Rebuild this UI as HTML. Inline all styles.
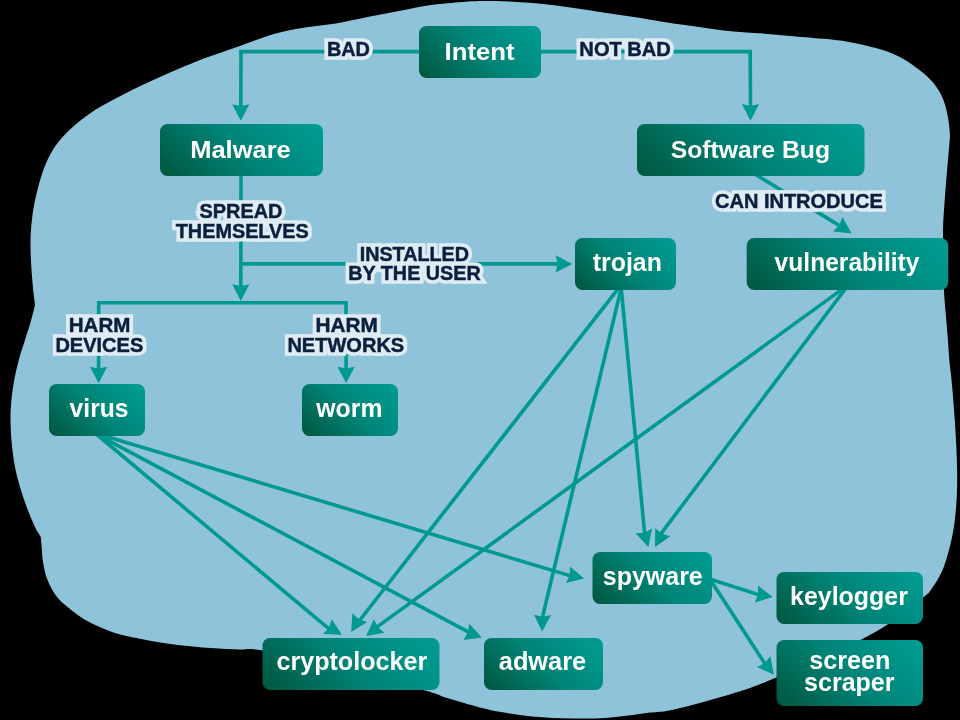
<!DOCTYPE html>
<html lang="en"><head><meta charset="utf-8"><title>Malware taxonomy</title>
<style>html,body{margin:0;padding:0;background:#000;}svg{display:block;}</style></head>
<body>
<svg width="960" height="720" viewBox="0 0 960 720">
<defs><linearGradient id="g0" gradientUnits="userSpaceOnUse" x1="436.5" y1="95.5" x2="523.5" y2="8.5"><stop offset="0" stop-color="#00563E"/><stop offset="0.5" stop-color="#008477"/><stop offset="1" stop-color="#009D94"/></linearGradient><linearGradient id="g1" gradientUnits="userSpaceOnUse" x1="187.8" y1="203.8" x2="295.2" y2="96.2"><stop offset="0" stop-color="#00563E"/><stop offset="0.5" stop-color="#008477"/><stop offset="1" stop-color="#009D94"/></linearGradient><linearGradient id="g2" gradientUnits="userSpaceOnUse" x1="680.9" y1="219.9" x2="820.6" y2="80.1"><stop offset="0" stop-color="#00563E"/><stop offset="0.5" stop-color="#008477"/><stop offset="1" stop-color="#009D94"/></linearGradient><linearGradient id="g3" gradientUnits="userSpaceOnUse" x1="587.2" y1="302.2" x2="663.8" y2="225.8"><stop offset="0" stop-color="#00563E"/><stop offset="0.5" stop-color="#008477"/><stop offset="1" stop-color="#009D94"/></linearGradient><linearGradient id="g4" gradientUnits="userSpaceOnUse" x1="784.1" y1="327.4" x2="910.8" y2="200.6"><stop offset="0" stop-color="#00563E"/><stop offset="0.5" stop-color="#008477"/><stop offset="1" stop-color="#009D94"/></linearGradient><linearGradient id="g5" gradientUnits="userSpaceOnUse" x1="60.0" y1="447.0" x2="134.0" y2="373.0"><stop offset="0" stop-color="#00563E"/><stop offset="0.5" stop-color="#008477"/><stop offset="1" stop-color="#009D94"/></linearGradient><linearGradient id="g6" gradientUnits="userSpaceOnUse" x1="313.0" y1="447.0" x2="387.0" y2="373.0"><stop offset="0" stop-color="#00563E"/><stop offset="0.5" stop-color="#008477"/><stop offset="1" stop-color="#009D94"/></linearGradient><linearGradient id="g7" gradientUnits="userSpaceOnUse" x1="293.8" y1="721.2" x2="408.2" y2="606.8"><stop offset="0" stop-color="#00563E"/><stop offset="0.5" stop-color="#008477"/><stop offset="1" stop-color="#009D94"/></linearGradient><linearGradient id="g8" gradientUnits="userSpaceOnUse" x1="500.8" y1="706.8" x2="586.2" y2="621.2"><stop offset="0" stop-color="#00563E"/><stop offset="0.5" stop-color="#008477"/><stop offset="1" stop-color="#009D94"/></linearGradient><linearGradient id="g9" gradientUnits="userSpaceOnUse" x1="609.4" y1="620.9" x2="695.1" y2="535.1"><stop offset="0" stop-color="#00563E"/><stop offset="0.5" stop-color="#008477"/><stop offset="1" stop-color="#009D94"/></linearGradient><linearGradient id="g10" gradientUnits="userSpaceOnUse" x1="800.1" y1="647.6" x2="899.4" y2="548.4"><stop offset="0" stop-color="#00563E"/><stop offset="0.5" stop-color="#008477"/><stop offset="1" stop-color="#009D94"/></linearGradient><linearGradient id="g11" gradientUnits="userSpaceOnUse" x1="796.6" y1="726.1" x2="902.9" y2="619.9"><stop offset="0" stop-color="#00563E"/><stop offset="0.5" stop-color="#008477"/><stop offset="1" stop-color="#009D94"/></linearGradient><mask id="m" maskUnits="userSpaceOnUse" x="0" y="0" width="960" height="720"><rect width="960" height="720" fill="#fff"/></mask></defs>
<rect width="960" height="720" fill="#000"/>
<path d="M484.0 1.0 C491.8 1.0 499.6 1.1 509.0 1.6 C518.4 2.1 530.1 2.7 540.6 3.8 C551.1 4.8 561.6 6.3 572.0 7.8 C582.4 9.3 592.7 11.0 603.0 12.5 C613.3 14.0 623.6 15.4 634.0 17.0 C644.4 18.6 656.3 20.8 665.6 22.3 C674.9 23.8 680.3 24.5 690.0 25.8 C699.7 27.1 710.8 29.0 723.8 30.4 C736.7 31.8 752.9 32.7 767.5 33.9 C782.1 35.1 799.1 36.6 811.2 37.7 C823.4 38.8 830.7 39.1 840.4 40.6 C850.1 42.1 860.9 44.3 869.6 46.5 C878.4 48.7 885.6 50.6 892.9 53.8 C900.2 56.9 907.0 61.0 913.3 65.4 C919.6 69.8 926.2 75.1 930.8 80.0 C935.4 84.9 938.3 89.3 941.0 94.6 C943.7 99.9 945.4 105.7 946.9 112.0 C948.4 118.3 949.4 127.0 949.8 132.5 C950.2 138.0 949.6 139.9 949.3 145.0 C948.9 150.1 948.3 156.0 947.7 163.0 C947.1 170.0 946.3 179.2 945.7 187.0 C945.1 194.8 944.5 202.8 944.0 210.0 C943.5 217.2 943.1 223.3 943.0 230.0 C942.9 236.7 943.1 240.0 943.3 250.0 C943.5 260.0 943.6 279.5 944.0 290.0 C944.4 300.5 945.1 305.2 945.7 313.0 C946.3 320.8 947.1 329.2 947.7 337.0 C948.3 344.8 948.6 352.6 949.3 360.0 C950.0 367.4 950.8 371.2 951.7 381.7 C952.7 392.2 954.1 409.1 955.0 423.0 C955.9 436.9 956.7 452.5 957.0 465.0 C957.3 477.5 957.2 487.6 956.7 498.0 C956.2 508.4 955.1 518.4 953.8 527.5 C952.4 536.6 950.4 544.9 948.3 552.5 C946.2 560.1 944.2 566.8 941.2 573.0 C938.3 579.2 933.8 585.9 930.8 590.0 C927.8 594.1 930.0 591.9 923.0 597.5 C916.0 603.1 899.5 616.4 889.0 623.5 C878.5 630.6 871.8 634.1 860.0 640.2 C848.2 646.3 832.0 653.8 818.0 660.0 C804.0 666.2 787.6 672.8 776.2 677.5 C764.9 682.2 759.5 684.7 750.0 688.0 C740.5 691.3 732.0 693.8 719.0 697.5 C706.0 701.2 684.0 707.4 672.0 710.0 C660.0 712.6 654.4 711.9 646.7 712.9 C639.0 713.9 632.8 714.9 625.8 715.8 C618.8 716.7 612.0 717.6 605.0 718.1 C598.0 718.6 591.0 718.6 584.0 718.6 C577.0 718.6 569.9 718.5 563.0 718.3 C556.1 718.1 549.4 717.7 542.5 717.2 C535.6 716.7 528.7 716.1 521.7 715.2 C514.8 714.3 507.8 713.3 500.8 712.0 C493.9 710.7 489.0 709.7 480.0 707.4 C471.0 705.1 455.8 700.7 447.0 698.0 C438.2 695.3 444.0 696.0 427.0 691.0 C410.0 686.0 372.4 674.8 345.0 668.0 C317.6 661.2 280.0 653.6 262.5 650.5 C245.0 647.4 247.9 649.9 240.0 649.5 C232.1 649.1 223.3 648.8 215.0 648.2 C206.7 647.7 198.3 647.1 190.0 646.2 C181.7 645.4 173.3 644.5 165.0 643.2 C156.7 642.0 148.3 640.5 140.0 638.8 C131.7 637.0 123.3 635.7 115.0 633.0 C106.7 630.3 97.1 626.2 90.0 622.5 C82.9 618.8 77.9 615.2 72.5 611.0 C67.1 606.8 61.7 602.7 57.5 597.5 C53.3 592.3 49.9 585.9 47.5 580.0 C45.1 574.1 44.0 567.5 43.0 562.0 C42.0 556.5 42.1 551.2 41.7 547.0 C41.3 542.8 40.9 538.4 40.7 536.7 C40.5 535.0 41.7 538.3 40.7 536.7 C39.8 535.1 37.3 532.0 35.0 527.0 C32.7 522.0 29.2 513.7 26.7 507.0 C24.2 500.3 21.9 493.7 20.0 487.0 C18.1 480.3 16.4 474.3 15.0 467.0 C13.6 459.7 12.4 450.8 11.7 443.0 C10.9 435.2 10.6 426.8 10.5 420.0 C10.4 413.2 10.7 408.8 11.2 402.5 C11.8 396.2 12.5 389.6 13.8 382.5 C15.0 375.4 16.9 367.1 18.8 360.0 C20.6 352.9 22.9 346.7 25.0 340.0 C27.1 333.3 29.6 325.8 31.2 320.0 C32.9 314.2 34.4 307.5 35.0 305.0 C35.6 302.5 35.3 307.5 35.0 305.0 C34.7 302.5 33.9 296.7 33.2 290.0 C32.6 283.3 31.7 273.3 31.2 265.0 C30.8 256.7 30.3 248.3 30.5 240.0 C30.7 231.7 31.5 222.5 32.5 215.0 C33.5 207.5 34.6 202.1 36.2 195.0 C37.9 187.9 40.2 179.2 42.5 172.5 C44.8 165.8 47.1 160.4 50.0 155.0 C52.9 149.6 55.8 145.0 60.0 140.0 C64.2 135.0 69.2 130.0 75.0 125.0 C80.8 120.0 87.5 114.8 95.0 110.0 C102.5 105.2 111.7 100.6 120.0 96.2 C128.3 91.9 136.7 87.7 145.0 83.8 C153.3 79.8 160.8 76.5 170.0 72.5 C179.2 68.5 193.2 62.8 200.0 60.0 C206.8 57.2 203.9 58.5 211.0 56.0 C218.1 53.5 232.0 48.7 242.5 45.0 C253.0 41.3 263.6 36.9 274.0 34.0 C284.4 31.1 294.7 29.3 305.0 27.5 C315.3 25.7 325.6 25.1 336.0 23.4 C346.4 21.6 357.0 19.1 367.5 17.0 C378.0 14.9 388.4 13.0 399.0 11.0 C409.6 9.0 420.4 6.5 431.0 5.0 C441.6 3.5 453.7 2.6 462.5 1.9 C471.3 1.2 476.2 1.1 484.0 1.0Z" fill="#8FC3DA"/>
<g fill="none" stroke="#00998F" stroke-width="3.6" stroke-linejoin="miter">
<path d="M420.0 51.6 L241.0 51.6 L240.8 107.5"/>
<path d="M540.0 51.6 L750.2 51.6 L750.5 107.4"/>
<path d="M241.0 175.0 L240.8 287.6"/>
<path d="M241.0 263.9 L559.0 263.9"/>
<path d="M241.0 302.7 L98.7 302.7 L98.6 370.0"/>
<path d="M241.0 302.7 L346.0 302.7 L346.1 370.0"/>
<path d="M95.0 433.0 L331.1 630.6"/>
<path d="M95.7 433.9 L471.5 633.7"/>
<path d="M100.4 434.8 L573.2 576.6"/>
<path d="M619.8 286.6 L357.6 623.0"/>
<path d="M621.9 285.1 L541.7 620.3"/>
<path d="M620.9 285.0 L644.9 536.3"/>
<path d="M845.0 287.1 L374.4 628.9"/>
<path d="M847.5 286.0 L659.0 536.3"/>
<path d="M754.7 174.0 L842.3 227.4"/>
<path d="M707.2 578.3 L761.6 595.6"/>
<path d="M709.3 578.2 L766.6 666.3"/>
</g>
<g fill="#00998F"><path d="M240.8 120.8 L232.2 104.2 L240.8 106.0 L249.4 104.2Z"/><path d="M750.5 120.7 L741.9 104.1 L750.5 105.9 L759.1 104.1Z"/><path d="M240.8 300.9 L232.2 284.3 L240.8 286.1 L249.4 284.3Z"/><path d="M572.3 263.9 L555.7 272.5 L557.5 263.9 L555.7 255.3Z"/><path d="M98.6 383.3 L90.0 366.7 L98.6 368.5 L107.2 366.7Z"/><path d="M346.1 383.3 L337.5 366.7 L346.1 368.5 L354.7 366.7Z"/><path d="M341.9 634.7 L323.2 634.0 L329.0 627.4 L331.7 619.0Z"/><path d="M481.9 637.5 L463.4 640.0 L468.0 632.5 L469.2 623.8Z"/><path d="M584.1 578.6 L566.0 583.1 L569.7 575.2 L569.9 566.4Z"/><path d="M351.2 631.9 L352.4 613.2 L358.8 619.2 L367.1 622.1Z"/><path d="M542.1 631.5 L533.9 614.7 L542.5 616.7 L551.1 615.1Z"/><path d="M648.4 546.9 L635.6 533.3 L644.4 532.7 L652.1 528.6Z"/><path d="M366.0 636.1 L373.9 619.2 L377.7 627.1 L384.4 632.8Z"/><path d="M655.0 546.9 L655.2 528.2 L661.9 533.8 L670.4 536.3Z"/><path d="M851.6 233.4 L833.0 231.4 L839.3 225.2 L842.5 217.1Z"/><path d="M772.7 597.1 L754.8 602.5 L758.1 594.4 L757.9 585.6Z"/><path d="M773.9 674.7 L756.9 667.0 L764.8 663.1 L770.4 656.3Z"/></g>
<g mask="url(#m)" font-family="Liberation Sans, sans-serif" font-weight="bold">
<g fill="#E0ECF3" stroke="#E0ECF3" stroke-width="7.7" stroke-linejoin="miter" stroke-miterlimit="3">
<text x="326.92" y="56.00" textLength="43.05" lengthAdjust="spacingAndGlyphs" font-size="19.5">BAD</text>
<text x="579.38" y="56.00" textLength="91.50" lengthAdjust="spacingAndGlyphs" font-size="19.5">NOT BAD</text>
<text x="714.99" y="208.30" textLength="167.84" lengthAdjust="spacingAndGlyphs" font-size="19.5">CAN INTRODUCE</text>
<text x="199.52" y="218.20" textLength="82.91" lengthAdjust="spacingAndGlyphs" font-size="19.5">SPREAD</text>
<text x="175.76" y="237.90" textLength="132.91" lengthAdjust="spacingAndGlyphs" font-size="19.5">THEMSELVES</text>
<text x="359.68" y="260.80" textLength="109.34" lengthAdjust="spacingAndGlyphs" font-size="19.5">INSTALLED</text>
<text x="348.25" y="280.30" textLength="132.41" lengthAdjust="spacingAndGlyphs" font-size="19.5">BY THE USER</text>
<text x="68.74" y="332.00" textLength="61.67" lengthAdjust="spacingAndGlyphs" font-size="19.5">HARM</text>
<text x="55.40" y="351.70" textLength="87.89" lengthAdjust="spacingAndGlyphs" font-size="19.5">DEVICES</text>
<text x="315.45" y="332.00" textLength="62.38" lengthAdjust="spacingAndGlyphs" font-size="19.5">HARM</text>
<text x="287.41" y="351.70" textLength="116.82" lengthAdjust="spacingAndGlyphs" font-size="19.5">NETWORKS</text>
<rect x="757" y="190.6" width="8.5" height="21.4" stroke="none"/>
</g>
<g fill="#0A203E" stroke="#0A203E" stroke-width="0.45">
<text x="326.92" y="56.00" textLength="43.05" lengthAdjust="spacingAndGlyphs" font-size="19.5">BAD</text>
<text x="579.38" y="56.00" textLength="91.50" lengthAdjust="spacingAndGlyphs" font-size="19.5">NOT BAD</text>
<text x="714.99" y="208.30" textLength="167.84" lengthAdjust="spacingAndGlyphs" font-size="19.5">CAN INTRODUCE</text>
<text x="199.52" y="218.20" textLength="82.91" lengthAdjust="spacingAndGlyphs" font-size="19.5">SPREAD</text>
<text x="175.76" y="237.90" textLength="132.91" lengthAdjust="spacingAndGlyphs" font-size="19.5">THEMSELVES</text>
<text x="359.68" y="260.80" textLength="109.34" lengthAdjust="spacingAndGlyphs" font-size="19.5">INSTALLED</text>
<text x="348.25" y="280.30" textLength="132.41" lengthAdjust="spacingAndGlyphs" font-size="19.5">BY THE USER</text>
<text x="68.74" y="332.00" textLength="61.67" lengthAdjust="spacingAndGlyphs" font-size="19.5">HARM</text>
<text x="55.40" y="351.70" textLength="87.89" lengthAdjust="spacingAndGlyphs" font-size="19.5">DEVICES</text>
<text x="315.45" y="332.00" textLength="62.38" lengthAdjust="spacingAndGlyphs" font-size="19.5">HARM</text>
<text x="287.41" y="351.70" textLength="116.82" lengthAdjust="spacingAndGlyphs" font-size="19.5">NETWORKS</text>
</g></g>
<rect x="419" y="26" width="122" height="52" rx="7.5" fill="url(#g0)"/>
<rect x="160" y="124" width="163" height="52" rx="7.5" fill="url(#g1)"/>
<rect x="637" y="124" width="227.5" height="52" rx="7.5" fill="url(#g2)"/>
<rect x="575" y="238" width="101" height="52" rx="7.5" fill="url(#g3)"/>
<rect x="746.7" y="238" width="201.5" height="52" rx="7.5" fill="url(#g4)"/>
<rect x="49" y="384" width="96" height="52" rx="7.5" fill="url(#g5)"/>
<rect x="302" y="384" width="96" height="52" rx="7.5" fill="url(#g6)"/>
<rect x="262.5" y="638" width="177" height="52" rx="7.5" fill="url(#g7)"/>
<rect x="484" y="638" width="119" height="52" rx="7.5" fill="url(#g8)"/>
<rect x="592.5" y="552" width="119.5" height="52" rx="7.5" fill="url(#g9)"/>
<rect x="776.5" y="572" width="146.5" height="52" rx="7.5" fill="url(#g10)"/>
<rect x="776.5" y="640" width="146.5" height="66" rx="7.5" fill="url(#g11)"/>
<g font-family="Liberation Sans, sans-serif" font-weight="bold" fill="#fff" mask="url(#m)">
<text x="444.55" y="60.00" textLength="70.00" lengthAdjust="spacingAndGlyphs" font-size="24.5">Intent</text>
<text x="190.17" y="158.40" textLength="100.63" lengthAdjust="spacingAndGlyphs" font-size="24.5">Malware</text>
<text x="670.70" y="158.30" textLength="159.38" lengthAdjust="spacingAndGlyphs" font-size="24.5">Software Bug</text>
<text x="592.72" y="270.60" textLength="69.17" lengthAdjust="spacingAndGlyphs" font-size="25">trojan</text>
<text x="774.62" y="270.70" textLength="144.87" lengthAdjust="spacingAndGlyphs" font-size="25">vulnerability</text>
<text x="69.62" y="416.60" textLength="58.97" lengthAdjust="spacingAndGlyphs" font-size="25">virus</text>
<text x="316.25" y="416.70" textLength="66.21" lengthAdjust="spacingAndGlyphs" font-size="25">worm</text>
<text x="276.49" y="670.30" textLength="150.67" lengthAdjust="spacingAndGlyphs" font-size="25">cryptolocker</text>
<text x="498.81" y="670.40" textLength="87.34" lengthAdjust="spacingAndGlyphs" font-size="25">adware</text>
<text x="602.78" y="584.60" textLength="99.99" lengthAdjust="spacingAndGlyphs" font-size="25">spyware</text>
<text x="790.01" y="604.80" textLength="117.92" lengthAdjust="spacingAndGlyphs" font-size="25">keylogger</text>
<text x="809.29" y="668.50" textLength="81.20" lengthAdjust="spacingAndGlyphs" font-size="25">screen</text>
<text x="804.08" y="691.40" textLength="90.46" lengthAdjust="spacingAndGlyphs" font-size="25">scraper</text>
</g>
</svg>
</body></html>
